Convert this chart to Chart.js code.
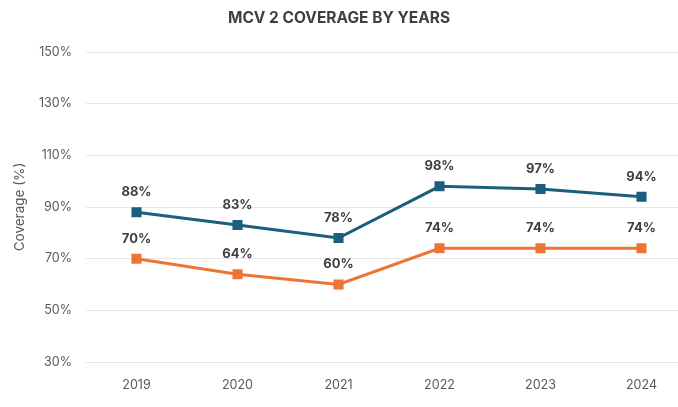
<!DOCTYPE html>
<html>
<head>
<meta charset="utf-8">
<script src="https://cdn.jsdelivr.net/npm/chart.js@4"></script>
<style>
  html, body { margin: 0; padding: 0; background: #fff; overflow: hidden; }
  #wrap { position: relative; width: 700px; height: 407px; }
</style>
</head>
<body>
<div id="wrap"><canvas id="coverageChart"></canvas></div>
<script>
var years = ['2019', '2020', '2021', '2022', '2023', '2024'];
var mcv2Upper = [88, 83, 78, 98, 97, 94];
var mcv2Lower = [70, 64, 60, 74, 74, 74];
var yTicks = [30, 50, 70, 90, 110, 130, 150];

var chartTitle = 'MCV 2 COVERAGE BY YEARS';
var FONT = "Inter, 'Liberation Sans', sans-serif";

// title centred on the visible page width + value above each point
var pointLabels = {
  id: 'pointLabels',
  afterDatasetsDraw: function(chart) {
    var ctx = chart.ctx;
    ctx.save();
    ctx.textAlign = "center";
    ctx.textBaseline = "middle";
    ctx.fillStyle = "#404040";
    ctx.font = "bold 15.5px " + FONT;
    ctx.fillText(chartTitle, 339, 18);
    ctx.font = "bold 13px " + FONT;
    chart.data.datasets.forEach(function(ds, i) {
      chart.getDatasetMeta(i).data.forEach(function(pt, j) {
        ctx.fillText(ds.data[j] + '%', pt.x, pt.y - 20);
      });
    });
    ctx.restore();
  }
};

var el = document.getElementById("coverageChart");
if (el) {
  var coverageChart = new Chart(el, {
    type: 'line',
    data: {
      labels: years,
      datasets: [{
        label: "MCV 2",
        data: mcv2Upper,
        borderColor: "#1B5E7E",
        backgroundColor: "#1B5E7E",
        borderWidth: 3,
        pointStyle: 'rect',
        pointRadius: 5,
        pointHoverRadius: 5
      }, {
        label: "MCV 2 (b)",
        data: mcv2Lower,
        borderColor: "#EE7433",
        backgroundColor: "#EE7433",
        borderWidth: 3,
        pointStyle: 'rect',
        pointRadius: 5,
        pointHoverRadius: 5
      }]
    },
    plugins: [pointLabels],
    options: {
      responsive: true,
      maintainAspectRatio: false,
      animation: false,
      layout: { padding: { left: 0, right: 4, top: 52, bottom: 0 } },
      plugins: {
        legend: { display: false },
        tooltip: { enabled: false },
        title: { display: false }
      },
      scales: {
        x: {
          offset: true,
          grid: { display: false, offset: true },
          border: { display: false },
          ticks: {
            color: '#595959',
            font: { family: FONT, size: 12.5 },
            padding: 8
          },
          afterFit: function(s) { s.height = 45; }
        },
        y: {
          min: 30,
          max: 150,
          afterBuildTicks: function(s) {
            s.ticks = yTicks.map(function(v) { return { value: v }; });
          },
          grid: { color: '#E6E6E6', lineWidth: 1, drawTicks: false },
          border: { display: false },
          ticks: {
            color: '#595959',
            font: { family: FONT, size: 12.5 },
            padding: 14,
            callback: function(v) { return v + '%'; }
          },
          title: {
            display: true,
            text: 'Coverage (%)',
            color: '#595959',
            font: { family: FONT, size: 13.5 },
            padding: { top: 12, bottom: 0 }
          },
          afterFit: function(s) { s.width = 86; }
        }
      }
    }
  });
}
</script>
</body>
</html>
